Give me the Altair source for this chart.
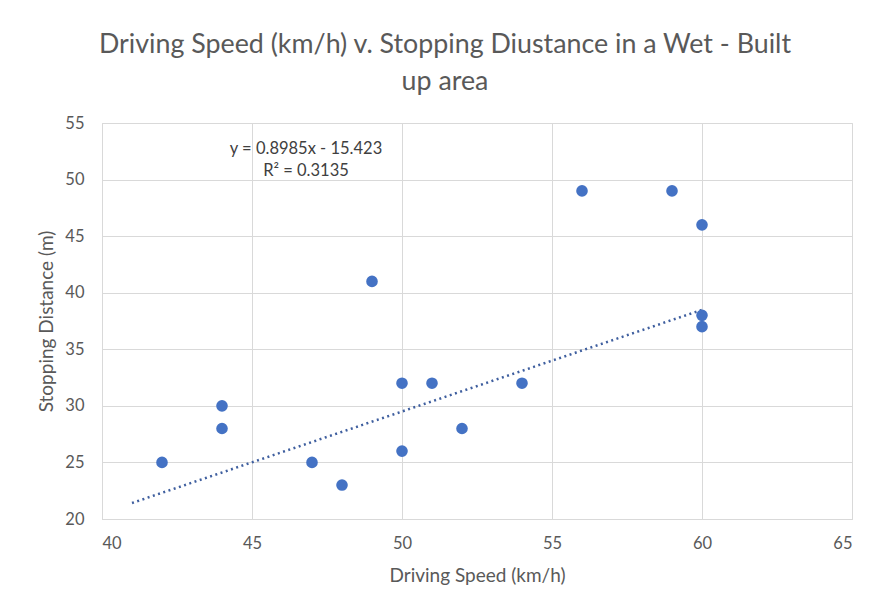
import altair as alt
import pandas as pd

speed = [42, 44, 44, 47, 48, 49, 50, 50, 51, 52, 54, 56, 59, 60, 60, 60]
distance = [25, 30, 28, 25, 23, 41, 32, 26, 32, 28, 32, 49, 49, 46, 38, 37]

trend_x = [41, 60]
slope = 0.8985
intercept = -15.423
trend_y = [slope * v + intercept for v in trend_x]

eq_lines = ["y = 0.8985x - 15.423", "R² = 0.3135"]
eq_x = [46.8, 46.8]
eq_y = [52.7, 50.8]

pts = pd.DataFrame({"speed": speed, "distance": distance})
trend = pd.DataFrame({"speed": trend_x, "distance": trend_y})
eq = pd.DataFrame({"speed": eq_x, "distance": eq_y, "label": eq_lines})

grey = "#595959"
blue = "#4472C4"

xs = alt.Scale(domain=[40, 65], nice=False, zero=False)
ys = alt.Scale(domain=[20, 55], nice=False, zero=False)

xaxis = alt.Axis(values=[40, 45, 50, 55, 60, 65], title="Driving Speed (km/h)",
                 labelFontSize=16.5, titleFontSize=19, labelColor=grey, titleColor=grey,
                 labelFont="Lato", titleFont="Lato", titleFontWeight="normal",
                 labelPadding=16, titlePadding=15, ticks=False,
                 domainColor="#d9d9d9", gridColor="#d9d9d9")
yaxis = alt.Axis(values=[20, 25, 30, 35, 40, 45, 50, 55], title="Stopping Distance (m)",
                 labelFontSize=16.5, titleFontSize=19, labelColor=grey, titleColor=grey,
                 labelFont="Lato", titleFont="Lato", titleFontWeight="normal",
                 labelPadding=18, titlePadding=8, ticks=False,
                 domainColor="#d9d9d9", gridColor="#d9d9d9")

points = alt.Chart(pts).mark_circle(size=135, color=blue, opacity=1).encode(
    x=alt.X("speed:Q", scale=xs, axis=xaxis),
    y=alt.Y("distance:Q", scale=ys, axis=yaxis),
)

line = alt.Chart(trend).mark_line(color="#3F5F9F", strokeWidth=2.5, strokeDash=[2, 3.5]).encode(
    x=alt.X("speed:Q", scale=xs),
    y=alt.Y("distance:Q", scale=ys),
)

text = alt.Chart(eq).mark_text(fontSize=16.5, font="Lato", color="#404040", align="center").encode(
    x=alt.X("speed:Q", scale=xs),
    y=alt.Y("distance:Q", scale=ys),
    text="label:N",
)

chart = alt.layer(line, points, text).properties(
    width=750,
    height=396,
    title=alt.TitleParams(
        text=["Driving Speed (km/h) v. Stopping Diustance in a Wet - Built", "up area"],
        fontSize=26.8, font="Lato", color=grey, fontWeight="normal",
        lineHeight=37, anchor="middle", dx=-32, offset=19,
    ),
    padding={"left": 102, "top": 123, "right": 23, "bottom": 83},
    autosize=alt.AutoSizeParams(type="none"),
).configure_view(stroke="#d9d9d9").configure(background="white")

chart.save("out.html", embed_options={"renderer": "svg", "actions": False})
